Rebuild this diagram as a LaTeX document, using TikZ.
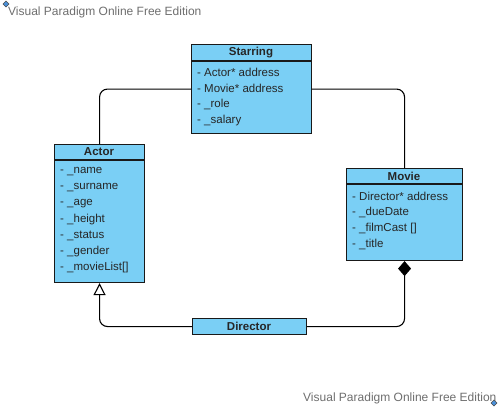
\documentclass[tikz,border=0pt]{standalone}
\usepackage{fontspec}
\setmainfont{Liberation Sans}
\usetikzlibrary{arrows.meta}
\definecolor{boxfill}{HTML}{7ACFF5}
\definecolor{wm}{HTML}{6E6E6E}
\definecolor{wmd}{HTML}{4A90D9}
\begin{document}
\begin{tikzpicture}[x=1pt,y=-1pt,
  cls/.style={draw=black!90,fill=boxfill,line width=1.1pt,inner sep=0pt,anchor=north west},
  hdr/.style={font=\fontsize{11.5}{13}\selectfont\bfseries,text=black!85},
  attr/.style={font=\fontsize{11.5}{13}\selectfont,anchor=west,inner sep=0pt,text=black!85},
  wmtext/.style={font=\fontsize{12}{14}\selectfont,text=wm,anchor=west,inner sep=0pt},
  conn/.style={line width=1.1pt,rounded corners=8pt},
  wmdia/.style={draw=black!70,fill=wmd,line width=0.4pt}]
\useasboundingbox (0,0) rectangle (500,408);
% Starring
\node[cls,minimum width=120pt,minimum height=89pt] (starring) at (191,44) {};
\draw[line width=1.1pt,draw=black!90] (191,61) -- (311,61);
\node[hdr] (starringh) at (251,52.5) {Starring};
\node[attr] (s1) at (197,72.5) {- Actor* address};
\node[attr] (s2) at (197,88.5) {- Movie* address};
\node[attr] (s3) at (197,104.5) {- \_role};
\node[attr] (s4) at (197,120.5) {- \_salary};
% Actor
\node[cls,minimum width=90pt,minimum height=138pt] (actor) at (54,144) {};
\draw[line width=1.1pt,draw=black!90] (54,160) -- (144,160);
\node[hdr] (actorh) at (99,152) {Actor};
\node[attr] (a1) at (60,171.5) {- \_name};
\node[attr] (a2) at (60,187.5) {- \_surname};
\node[attr] (a3) at (60,203.5) {- \_age};
\node[attr] (a4) at (60,219.5) {- \_height};
\node[attr] (a5) at (60,235.5) {- \_status};
\node[attr] (a6) at (60,251.5) {- \_gender};
\node[attr] (a7) at (60,267.5) {- \_movieList[]};
% Movie
\node[cls,minimum width=116pt,minimum height=92pt] (movie) at (346,168) {};
\draw[line width=1.1pt,draw=black!90] (346,184) -- (462,184);
\node[hdr] (movieh) at (404,176) {Movie};
\node[attr] (m1) at (352,196.5) {- Director* address};
\node[attr] (m2) at (352,212.5) {- \_dueDate};
\node[attr] (m3) at (352,228.5) {- \_filmCast []};
\node[attr] (m4) at (352,244.5) {- \_title};
% Director
\node[cls,minimum width=114pt,minimum height=16pt] (director) at (192,318) {};
\node[hdr] (directorh) at (249,326) {Director};
% connectors
\draw[conn] (starring.west) -| (actor.north);
\draw[conn] (starring.east) -| (movie.north);
\draw[conn,-{Triangle[open,length=12pt,width=12pt,line width=1.1pt]}] (director.west) -| (actor.south);
\draw[conn,-{Diamond[length=15pt,width=13pt]}] (director.east) -| (movie.south);
% watermarks
\node[wmtext] (wm1) at (8,12) {Visual Paradigm Online Free Edition};
\node[wmtext] (wm2) at (303,398) {Visual Paradigm Online Free Edition};
\draw[wmdia] (6,1) -- (9,4) -- (6,7) -- (3,4) -- cycle;
\draw[wmdia] (494,400) -- (497,403) -- (494,406) -- (491,403) -- cycle;
\end{tikzpicture}
\end{document}
